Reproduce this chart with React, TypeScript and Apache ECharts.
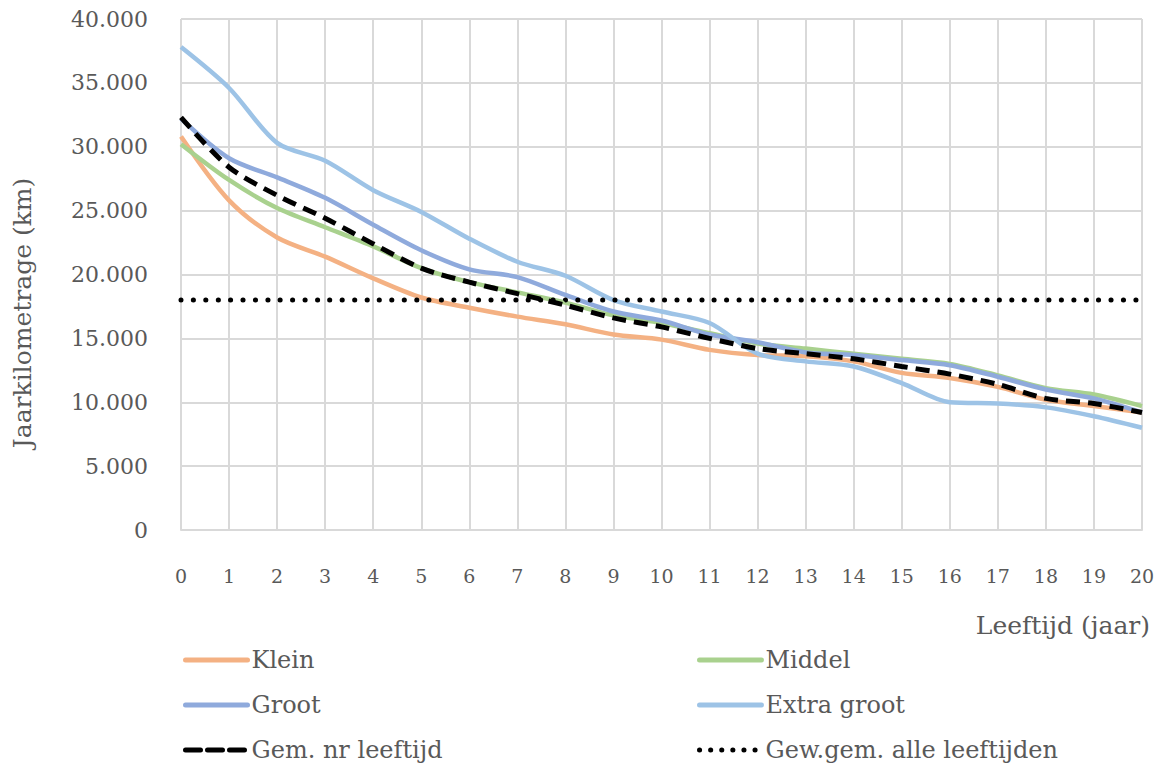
import React, { useEffect, useRef } from "react";
import * as echarts from "echarts";

const ages = [0, 1, 2, 3, 4, 5, 6, 7, 8, 9, 10, 11, 12, 13, 14, 15, 16, 17, 18, 19, 20];
const klein = [30800, 25800, 22900, 21400, 19700, 18200, 17400, 16700, 16100, 15300, 14900, 14100, 13700, 13600, 13200, 12300, 11900, 11200, 10200, 9700, 9200];
const middel = [30200, 27400, 25200, 23700, 22200, 20500, 19400, 18600, 17800, 16800, 16200, 15400, 14600, 14200, 13800, 13400, 13000, 12100, 11100, 10600, 9700];
const groot = [32200, 29100, 27600, 26000, 23900, 21900, 20400, 19800, 18400, 17100, 16400, 15300, 14700, 13900, 13700, 13300, 12900, 12000, 11000, 10300, 9200];
const extraGroot = [37800, 34600, 30300, 28900, 26600, 24900, 22800, 21000, 19900, 18000, 17100, 16200, 13800, 13200, 12800, 11500, 10000, 9900, 9600, 8900, 8000];
const gemNrLeeftijd = [32300, 28400, 26200, 24400, 22400, 20500, 19400, 18500, 17600, 16600, 15900, 15000, 14200, 13800, 13400, 12800, 12200, 11400, 10300, 9900, 9200];
const gewGemAlle = 18000;

const FONT = "DejaVu Serif";
const TEXT = "#595959";

const pairs = (vals: number[]) => ages.map((a, i) => [a, vals[i]]);

export default function App() {
  const ref = useRef<HTMLDivElement>(null);
  useEffect(() => {
    if (!ref.current) return;
    const chart = echarts.init(ref.current, undefined, { renderer: "svg" });
    const lineSeries = (name: string, data: number[], color: string, extra: any = {}) => ({
      name,
      type: "line",
      data: pairs(data),
      smooth: 0.3,
      showSymbol: false,
      symbol: "none",
      lineStyle: { color, width: 4.5, ...extra },
      itemStyle: { color },
    });
    const legendItem = (name: string, left: number, top: number, dash: any = "solid") => ({
      data: [name],
      left,
      top,
      padding: 0,
      itemWidth: 62,
      itemHeight: 14,
      itemGap: 0,
      itemStyle: { opacity: 0 },
      lineStyle: { width: 5, cap: "round", type: dash },
      textStyle: { color: TEXT, fontSize: 24, fontFamily: FONT, padding: [0, 0, 0, -1] },
    });
    chart.setOption({
      animation: false,
      textStyle: { fontFamily: FONT },
      grid: { left: 181, right: 19, top: 19, bottom: 237, containLabel: false },
      xAxis: {
        type: "value",
        min: 0,
        max: 20,
        interval: 1,
        axisLine: { show: true, lineStyle: { color: "#D9D9D9", width: 2 } },
        axisTick: { show: false },
        splitLine: { show: true, lineStyle: { color: "#D9D9D9", width: 2 } },
        axisLabel: { color: TEXT, fontSize: 19, fontFamily: FONT, margin: 36 },
      },
      yAxis: {
        type: "value",
        min: 0,
        max: 40000,
        interval: 5000,
        axisLine: { show: false },
        axisTick: { show: false },
        splitLine: { show: true, lineStyle: { color: "#D9D9D9", width: 2 } },
        axisLabel: {
          color: TEXT,
          fontSize: 22,
          fontFamily: FONT,
          margin: 33,
          formatter: (v: number) => (v === 0 ? "0" : v.toLocaleString("de-DE")),
        },
      },
      legend: [
        legendItem("Klein", 183, 648),
        legendItem("Middel", 697, 648),
        legendItem("Groot", 183, 693),
        legendItem("Extra groot", 697, 693),
        legendItem("Gem. nr leeftijd", 183, 738, [15, 7]),
        legendItem("Gew.gem. alle leeftijden", 697, 738, [0.1, 11]),
      ],
      graphic: [
        {
          type: "text",
          x: 22,
          y: 313,
          rotation: Math.PI / 2,
          style: {
            text: "Jaarkilometrage (km)",
            fill: TEXT,
            fontSize: 25,
            fontFamily: FONT,
            align: "center",
            verticalAlign: "middle",
          },
        },
        {
          type: "text",
          x: 1150,
          y: 625,
          style: {
            text: "Leeftijd (jaar)",
            fill: TEXT,
            fontSize: 25,
            fontFamily: FONT,
            align: "right",
            verticalAlign: "middle",
          },
        },
      ],
      series: [
        lineSeries("Klein", klein, "#F4B183"),
        lineSeries("Middel", middel, "#A9D18E"),
        lineSeries("Groot", groot, "#8FAADC"),
        lineSeries("Extra groot", extraGroot, "#9DC3E6"),
        lineSeries("Gem. nr leeftijd", gemNrLeeftijd, "#000000", { width: 5, type: [14, 8] }),
        lineSeries(
          "Gew.gem. alle leeftijden",
          ages.map(() => gewGemAlle),
          "#000000",
          { width: 5, type: [0.1, 12.3], cap: "round" }
        ),
      ],
    });
    return () => chart.dispose();
  }, []);
  return <div ref={ref} style={{ width: 1161, height: 767, position: "absolute", left: 0, top: 0 }} />;
}
